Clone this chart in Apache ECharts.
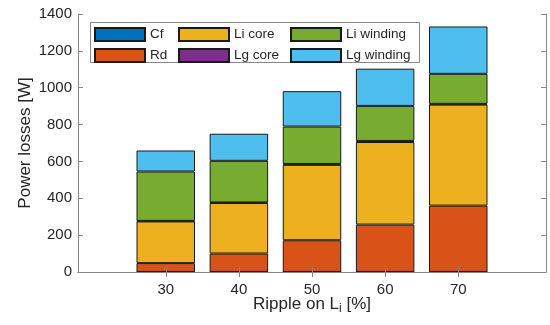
<!DOCTYPE html>
<html>
<head>
<meta charset="utf-8">
<script src="https://cdn.jsdelivr.net/npm/echarts@6/dist/echarts.min.js"></script>
<style>
  html, body { margin: 0; padding: 0; background: #fff; }
  #chart { width: 550px; height: 325px; }
</style>
</head>
<body>
<div id="chart"></div>
<script>
// Ripple on Li [%] and the loss breakdown per component [W]
const ripple = [30, 40, 50, 60, 70];
const cf = [0.3, 0.3, 0.3, 0.3, 0.3];
const rd = [48, 100, 172, 257, 360];
const liCore = [226, 274, 409, 448, 548];
const lgCore = [3, 3, 5, 6, 4];
const liWinding = [268, 226, 203, 190, 163];
const lgWinding = [114, 147, 192, 202, 257];

const seriesNames = ['Cf', 'Rd', 'Li core', 'Lg core', 'Li winding', 'Lg winding'];
const seriesValues = [cf, rd, liCore, lgCore, liWinding, lgWinding];
const seriesColors = ['#0072BD', '#D95319', '#EDB120', '#7E2F8E', '#77AC30', '#4DBEEE'];

const FONT = 'Liberation Sans, Arial, Helvetica, sans-serif';
const AXIS_GREY = '#878787';
const TEXT_GREY = '#262626';

// frame spans ripple 18..82; each category band is 10 % wide
const X_MIN = 18, X_MAX = 82;
const PLOT_LEFT = 78, PLOT_RIGHT = 546, PLOT_TOP = 14, PLOT_BOTTOM = 272;
const W = 550, H = 325;
const pxPerUnit = (PLOT_RIGHT - PLOT_LEFT) / (X_MAX - X_MIN);
const bandLeft = PLOT_LEFT + (ripple[0] - 5 - X_MIN) * pxPerUnit;
const bandRight = PLOT_LEFT + (ripple[ripple.length - 1] + 5 - X_MIN) * pxPerUnit;

const chart = echarts.init(document.getElementById('chart'), null, { renderer: 'canvas' });

const series = seriesNames.map((name, i) => ({
  name,
  type: 'bar',
  stack: 'losses',
  xAxisIndex: 2,
  yAxisIndex: 2,
  barWidth: '80%',
  data: seriesValues[i],
  itemStyle: { color: seriesColors[i], borderColor: '#1a1a1a', borderWidth: 1 },
  emphasis: { disabled: true },
  animation: false
}));

// legend laid out in three columns of two entries
const legendColumns = [['Cf', 'Rd'], ['Li core', 'Lg core'], ['Li winding', 'Lg winding']];
const legendLefts = [94, 178, 290];
const legends = legendColumns.map((names, k) => ({
  data: names,
  orient: 'vertical',
  left: legendLefts[k],
  top: 27,
  padding: 0,
  itemGap: 6,
  itemWidth: 50,
  itemHeight: 13,
  icon: 'rect',
  selectedMode: false,
  z: 6,
  textStyle: { fontFamily: FONT, fontSize: 13.5, color: TEXT_GREY }
}));

const frameAxisX = (position, extra) => Object.assign({
  type: 'value',
  gridIndex: 0,
  min: X_MIN,
  max: X_MAX,
  position,
  z: 4,
  axisLine: { show: true, lineStyle: { color: AXIS_GREY, width: 1 } },
  axisTick: { show: true, inside: true, length: 5, customValues: ripple, lineStyle: { color: AXIS_GREY } },
  axisLabel: { show: false },
  splitLine: { show: false }
}, extra);

const frameAxisY = (position, extra) => Object.assign({
  type: 'value',
  gridIndex: 0,
  min: 0,
  max: 1400,
  interval: 200,
  position,
  z: 4,
  axisLine: { show: true, lineStyle: { color: AXIS_GREY, width: 1 } },
  axisTick: { show: true, inside: true, length: 5, lineStyle: { color: AXIS_GREY } },
  axisLabel: { show: false },
  splitLine: { show: false }
}, extra);

const option = {
  animation: false,
  backgroundColor: '#fff',
  grid: [
    { left: PLOT_LEFT, right: W - PLOT_RIGHT, top: PLOT_TOP, bottom: H - PLOT_BOTTOM, containLabel: false },
    { left: bandLeft, right: W - bandRight, top: PLOT_TOP, bottom: H - PLOT_BOTTOM, containLabel: false }
  ],
  legend: legends,
  graphic: [{
    type: 'rect',
    shape: { x: 90.5, y: 22.5, width: 329, height: 40 },
    style: { fill: '#fff', stroke: AXIS_GREY, lineWidth: 1 },
    z: 5
  }],
  xAxis: [
    frameAxisX('bottom', {
      name: 'Ripple on L{sub|i} [%]',
      nameLocation: 'middle',
      nameGap: 21,
      nameMoveOverlap: false,
      nameTextStyle: {
        fontFamily: FONT, fontSize: 17, color: TEXT_GREY,
        rich: { sub: { fontFamily: FONT, fontSize: 12, color: TEXT_GREY, padding: [10, 0, 0, 0] } }
      },
      axisLabel: { show: true, customValues: ripple, fontFamily: FONT, fontSize: 15, color: TEXT_GREY, margin: 10 }
    }),
    frameAxisX('top', {}),
    {
      type: 'category',
      gridIndex: 1,
      data: ripple,
      show: false
    }
  ],
  yAxis: [
    frameAxisY('left', {
      name: 'Power losses [W]',
      nameLocation: 'middle',
      nameGap: 44,
      nameMoveOverlap: false,
      nameTextStyle: { fontFamily: FONT, fontSize: 17, color: TEXT_GREY },
      axisLabel: { show: true, fontFamily: FONT, fontSize: 15, color: TEXT_GREY, margin: 6, formatter: v => String(v) }
    }),
    frameAxisY('right', {}),
    {
      type: 'value',
      gridIndex: 1,
      min: 0,
      max: 1400,
      show: false
    }
  ],
  series
};

chart.setOption(option);
</script>
</body>
</html>
